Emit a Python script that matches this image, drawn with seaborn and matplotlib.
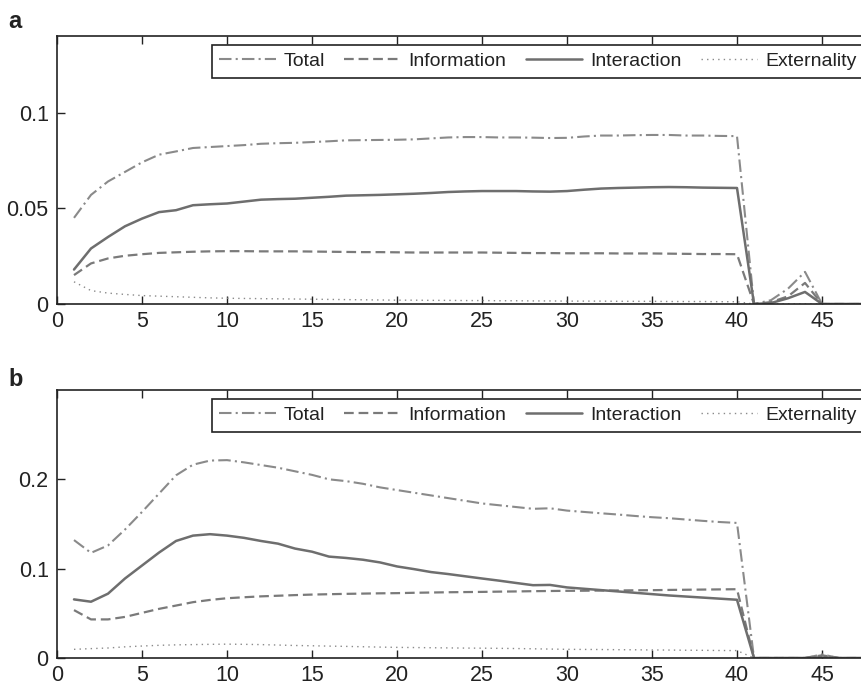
import numpy as np
import pandas as pd
import seaborn as sns
import matplotlib
matplotlib.use("Agg")
import matplotlib.pyplot as plt
from matplotlib.ticker import FuncFormatter

# time steps 1..48
steps = list(range(1, 49))

# panel a
total_a = [0.045, 0.057, 0.064, 0.069, 0.074, 0.078, 0.0797, 0.0815, 0.082, 0.0825,
           0.083, 0.0837, 0.084, 0.0842, 0.0846, 0.085, 0.0855, 0.0856, 0.0857, 0.0858,
           0.086, 0.0865, 0.087, 0.0872, 0.0872, 0.087, 0.087, 0.0869, 0.0867, 0.0868,
           0.0875, 0.088, 0.088, 0.0882, 0.0883, 0.0883, 0.088, 0.088, 0.0878, 0.0877,
           0.0, 0.002, 0.008, 0.0168, 0.0, 0.0, 0.0, 0.0]
info_a = [0.0151, 0.0212, 0.0238, 0.0252, 0.026, 0.0267, 0.027, 0.0273, 0.0275, 0.0276,
          0.0276, 0.0275, 0.0275, 0.0275, 0.0274, 0.0273, 0.0272, 0.0271, 0.0271, 0.027,
          0.0269, 0.0269, 0.0269, 0.0269, 0.0269, 0.0268, 0.0267, 0.0266, 0.0266, 0.0265,
          0.0265, 0.0265, 0.0264, 0.0264, 0.0264, 0.0263, 0.0262, 0.0261, 0.0261, 0.026,
          0.0, 0.001, 0.004, 0.011, 0.0, 0.0, 0.0, 0.0]
inter_a = [0.018, 0.029, 0.035, 0.0406, 0.0446, 0.048, 0.049, 0.0516, 0.0521, 0.0525,
           0.0535, 0.0545, 0.0548, 0.055, 0.0555, 0.056, 0.0566, 0.0568, 0.057, 0.0573,
           0.0576, 0.058, 0.0585, 0.0588, 0.059, 0.059, 0.059, 0.0588, 0.0587, 0.059,
           0.0597, 0.0603, 0.0606, 0.0608, 0.061, 0.0611, 0.061, 0.0608, 0.0607, 0.0606,
           0.0, 0.0005, 0.003, 0.0063, 0.0, 0.0, 0.0, 0.0]
ext_a = [0.0116, 0.007, 0.0057, 0.005, 0.0044, 0.0041, 0.0038, 0.0035, 0.0032, 0.003,
         0.0029, 0.0028, 0.0027, 0.0026, 0.0025, 0.0024, 0.0023, 0.0022, 0.0021, 0.002,
         0.002, 0.0019, 0.0019, 0.0018, 0.0018, 0.0017, 0.0017, 0.0016, 0.0016, 0.0015,
         0.0015, 0.0015, 0.0014, 0.0014, 0.0014, 0.0013, 0.0013, 0.0013, 0.0012, 0.0012,
         0.0, 0.0, 0.0, 0.0, 0.0, 0.0, 0.0, 0.0]

# panel b
total_b = [0.132, 0.1177, 0.126, 0.1438, 0.1635, 0.184, 0.2045, 0.2164, 0.221, 0.2215,
           0.219, 0.216, 0.213, 0.209, 0.205, 0.2, 0.198, 0.195, 0.191, 0.188,
           0.185, 0.182, 0.179, 0.176, 0.173, 0.171, 0.169, 0.167, 0.1676, 0.165,
           0.1635, 0.162, 0.1606, 0.159, 0.1576, 0.1565, 0.155, 0.1535, 0.1522, 0.1512,
           0.0, 0.0, 0.0, 0.0, 0.004, 0.0, 0.0, 0.0]
info_b = [0.0536, 0.0432, 0.0432, 0.046, 0.0505, 0.055, 0.0587, 0.0625, 0.065, 0.0669,
          0.068, 0.069, 0.0697, 0.0704, 0.071, 0.0714, 0.0718, 0.0721, 0.0724, 0.0726,
          0.073, 0.0733, 0.0736, 0.0738, 0.074, 0.0743, 0.0745, 0.0748, 0.075, 0.0752,
          0.0753, 0.0755, 0.0756, 0.0758, 0.0759, 0.0762, 0.0764, 0.0766, 0.0768, 0.077,
          0.0, 0.0, 0.0, 0.0, 0.003, 0.0, 0.0, 0.0]
inter_b = [0.0656, 0.063, 0.072, 0.089, 0.1035, 0.118, 0.131, 0.137, 0.1386, 0.137,
           0.1345, 0.131, 0.128, 0.1225, 0.119, 0.1135, 0.112, 0.11, 0.107, 0.1025,
           0.0995, 0.0962, 0.094, 0.0915, 0.089, 0.0866, 0.084, 0.0815, 0.0818, 0.079,
           0.0775, 0.076, 0.0745, 0.073, 0.0715, 0.07, 0.0688, 0.0676, 0.0664, 0.0652,
           0.0, 0.0, 0.0, 0.0, 0.001, 0.0, 0.0, 0.0]
ext_b = [0.0097, 0.0105, 0.0112, 0.0125, 0.0134, 0.0142, 0.0147, 0.015, 0.0153, 0.0155,
         0.0153, 0.015, 0.0145, 0.014, 0.0137, 0.0133, 0.013, 0.0126, 0.0122, 0.0119,
         0.0117, 0.0115, 0.0113, 0.0111, 0.011, 0.0108, 0.0106, 0.0103, 0.01, 0.0097,
         0.0096, 0.0095, 0.0093, 0.0092, 0.009, 0.0089, 0.0087, 0.0086, 0.0084, 0.0083,
         0.0, 0.0, 0.0, 0.0, 0.002, 0.0, 0.0, 0.0]

series_names = ["Total", "Information", "Interaction", "Externality"]

sns.set_style("ticks")
plt.rcParams["font.family"] = ["Liberation Sans", "DejaVu Sans"]
plt.rcParams["lines.scale_dashes"] = False

styles = {
    "Total": dict(color="#8a8a8a", lw=1.5, ls=(0, (9, 3, 1.5, 3))),
    "Information": dict(color="#7a7a7a", lw=1.6, ls=(0, (7, 3.5))),
    "Interaction": dict(color="#6e6e6e", lw=1.8, ls="-"),
    "Externality": dict(color="#8a8a8a", lw=1.0, ls=(0, (1, 3))),
}

fig = plt.figure(figsize=(8.61, 6.83), dpi=100)
W, H = 861, 683
left = 57 / W
width = (17 * 48) / W
ax_a = fig.add_axes([left, (H - 304) / H, width, 268 / H])
ax_b = fig.add_axes([left, (H - 658) / H, width, 268 / H])

panels = [
    (ax_a, [total_a, info_a, inter_a, ext_a], 0.14, [0, 0.05, 0.1], "a", 28),
    (ax_b, [total_b, info_b, inter_b, ext_b], 0.30, [0, 0.1, 0.2], "b", 386),
]

for ax, vals, ymax, yt, lab, ylab in panels:
    for name, v in zip(series_names, vals):
        st = styles[name]
        sns.lineplot(x=steps, y=v, ax=ax, color=st["color"], linewidth=st["lw"],
                     linestyle=st["ls"], label=name)
    ax.set_xlim(0, 48)
    ax.set_ylim(0, ymax)
    ax.set_xticks(range(0, 50, 5))
    ax.set_yticks(yt)
    ax.yaxis.set_major_formatter(FuncFormatter(lambda v, _: f"{v:g}"))
    ax.tick_params(direction="in", top=True, right=True, length=5.5, width=1,
                   labelsize=15.5, color="#222222", labelcolor="#222222")
    ax.tick_params(axis="x", pad=5)
    ax.tick_params(axis="y", pad=6)
    for sp in ax.spines.values():
        sp.set_linewidth(1.2)
        sp.set_color("#222222")
    leg = ax.legend(loc="upper right", ncol=4, fontsize=14, frameon=True,
                    fancybox=False, framealpha=1, edgecolor="#222222",
                    handlelength=2.9, handletextpad=0.4, columnspacing=1.0,
                    borderaxespad=0.45, borderpad=0.4)
    leg.get_frame().set_linewidth(1.2)
    for t in leg.get_texts():
        t.set_color("#222222")
    fig.text(8 / W, 1 - ylab / H, lab, fontsize=17, fontweight="bold",
             va="baseline", ha="left", color="#222222")

fig.savefig("out.png", dpi=100)
